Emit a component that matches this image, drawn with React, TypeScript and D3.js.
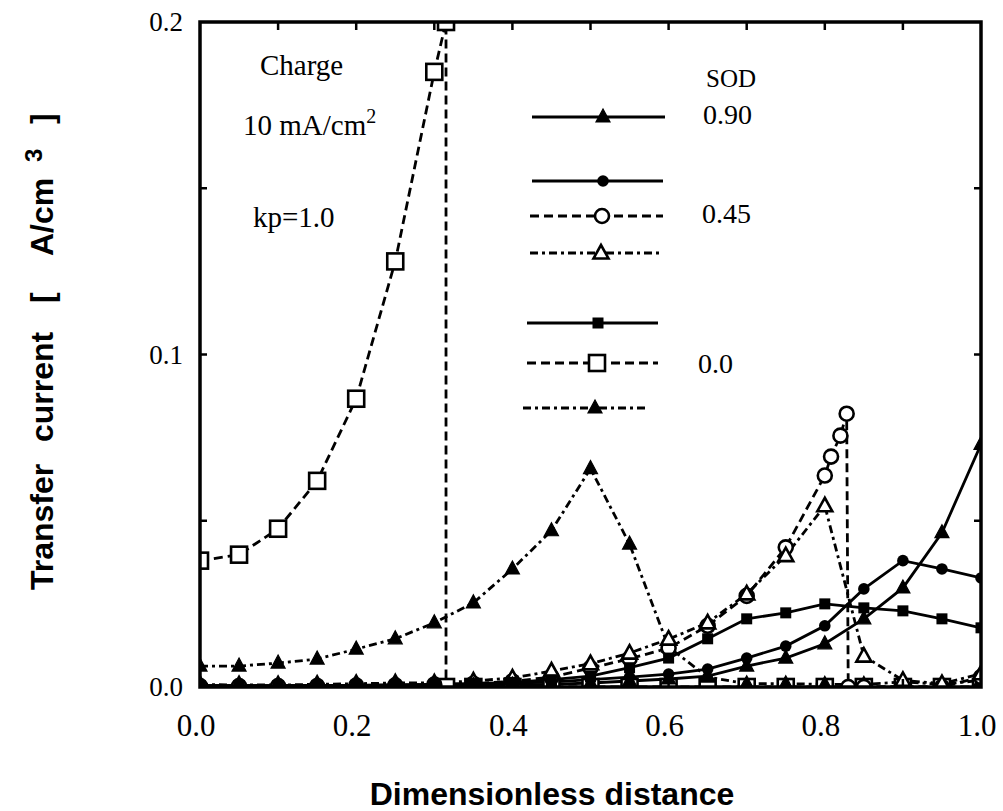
import React from 'react';
import * as d3 from 'd3';

// ---------- data ----------
const xGrid = [0, 0.05, 0.1, 0.15, 0.2, 0.25, 0.3, 0.35, 0.4, 0.45, 0.5, 0.55, 0.6, 0.65, 0.7, 0.75, 0.8, 0.85, 0.9, 0.95, 1.0];

// SOD 0.90, solid line, filled triangles
const sod090Solid = [0.0003, 0.0003, 0.0003, 0.0003, 0.0003, 0.0004, 0.0004, 0.0005, 0.0006, 0.0008, 0.0012, 0.0018, 0.0024, 0.0033, 0.0063, 0.0087, 0.013, 0.0205, 0.0298, 0.0464, 0.073];

// SOD 0.45, solid line, filled circles
const sod045Solid = [0.0004, 0.0004, 0.0004, 0.0005, 0.0005, 0.0006, 0.0007, 0.0009, 0.0012, 0.0015, 0.0022, 0.003, 0.0039, 0.0054, 0.0087, 0.0123, 0.0184, 0.0295, 0.038, 0.0355, 0.0328];

// SOD 0.45, dashed line, open circles
const sod045DashedX = [0, 0.05, 0.1, 0.15, 0.2, 0.25, 0.3, 0.35, 0.4, 0.45, 0.5, 0.55, 0.6, 0.65, 0.7, 0.75, 0.8, 0.808, 0.82, 0.828, 0.83, 0.85, 0.9, 0.95, 1.0];
const sod045Dashed = [0.0003, 0.0003, 0.0003, 0.0003, 0.0004, 0.0005, 0.0007, 0.001, 0.0017, 0.003, 0.0057, 0.0085, 0.0117, 0.0184, 0.0274, 0.042, 0.0636, 0.0693, 0.0756, 0.0822, 0, 0, 0, 0, 0.003];

// SOD 0.45, dash-dot line, open triangles
const sod045DashDot = [0.0008, 0.0006, 0.0006, 0.0008, 0.001, 0.0012, 0.0012, 0.0018, 0.0027, 0.0048, 0.007, 0.0102, 0.0144, 0.0193, 0.028, 0.0395, 0.0545, 0.0093, 0.002, 0.001, 0.004];

// SOD 0.0, solid line, filled squares
const sod0Solid = [0.0004, 0.0004, 0.0004, 0.0005, 0.0005, 0.0006, 0.0008, 0.001, 0.0014, 0.0022, 0.0033, 0.0058, 0.0087, 0.0145, 0.0205, 0.0223, 0.025, 0.0238, 0.0229, 0.0205, 0.0178];

// SOD 0.0, dashed line, open squares
const sod0DashedX = [0, 0.05, 0.1, 0.15, 0.2, 0.25, 0.3, 0.315, 0.315, 0.35, 0.4, 0.45, 0.5, 0.55, 0.6, 0.65, 0.7, 0.75, 0.8, 0.85, 0.9, 0.95, 1.0];
const sod0Dashed = [0.038, 0.0398, 0.0476, 0.062, 0.0867, 0.128, 0.185, 0.2, 0, 0, 0, 0, 0, 0, 0, 0, 0, 0, 0, 0, 0, 0, 0];

// SOD 0.0, dash-dot line, filled triangles
const sod0DashDot = [0.0063, 0.0063, 0.0072, 0.0084, 0.0114, 0.0145, 0.0193, 0.0253, 0.0355, 0.047, 0.0657, 0.043, 0.012, 0.003, 0.001, 0.001, 0.0008, 0.0008, 0.0015, 0.0008, 0.002];

const xTicks = [0, 0.2, 0.4, 0.6, 0.8, 1.0];
const xTickLabels = ['0.0', '0.2', '0.4', '0.6', '0.8', '1.0'];
const yTicks = [0, 0.1, 0.2];
const yTickLabels = ['0.0', '0.1', '0.2'];
const xMinorTicks = [0.1, 0.2, 0.3, 0.4, 0.5, 0.6, 0.7, 0.8, 0.9];
const yMinorTicks = [0.05, 0.1, 0.15];

const legendTitle = 'SOD';
const legendLabels = ['0.90', '0.45', '0.0'];
const annotations = ['Charge', 'kp=1.0'];

type MarkerKind = 'triFill' | 'triOpen' | 'circFill' | 'circOpen' | 'sqFill' | 'sqOpen';
type DashKind = 'solid' | 'dash' | 'dashdot';

const series: { xs: number[]; ys: number[]; dash: DashKind; marker: MarkerKind }[] = [
  { xs: sod0DashedX, ys: sod0Dashed, dash: 'dash', marker: 'sqOpen' },
  { xs: xGrid, ys: sod0DashDot, dash: 'dashdot', marker: 'triFill' },
  { xs: sod045DashedX, ys: sod045Dashed, dash: 'dash', marker: 'circOpen' },
  { xs: xGrid, ys: sod045DashDot, dash: 'dashdot', marker: 'triOpen' },
  { xs: xGrid, ys: sod0Solid, dash: 'solid', marker: 'sqFill' },
  { xs: xGrid, ys: sod045Solid, dash: 'solid', marker: 'circFill' },
  { xs: xGrid, ys: sod090Solid, dash: 'solid', marker: 'triFill' },
];

const legendRows: { dash: DashKind; marker: MarkerKind }[] = [
  { dash: 'solid', marker: 'triFill' },
  { dash: 'solid', marker: 'circFill' },
  { dash: 'dash', marker: 'circOpen' },
  { dash: 'dashdot', marker: 'triOpen' },
  { dash: 'solid', marker: 'sqFill' },
  { dash: 'dash', marker: 'sqOpen' },
  { dash: 'dashdot', marker: 'triFill' },
];

// ---------- layout ----------
const W = 1003;
const H = 811;
const left = 200, right = 981, top = 22, bottom = 687;
const x = d3.scaleLinear().domain([0, 1]).range([left, right]);
const y = d3.scaleLinear().domain([0, 0.2]).range([bottom, top]);

const dashArray: Record<DashKind, string | undefined> = {
  solid: undefined,
  dash: '9,5',
  dashdot: '8,4,3,4',
};

const serif = '"Liberation Serif", "Times New Roman", Times, serif';
const sans = '"Liberation Sans", Arial, Helvetica, sans-serif';

function Marker({ kind, cx, cy }: { kind: MarkerKind; cx: number; cy: number }) {
  switch (kind) {
    case 'triFill':
      return <path d={`M${cx},${cy - 8}L${cx - 7},${cy + 5}L${cx + 7},${cy + 5}Z`} fill="black" stroke="black" strokeWidth={1.2} />;
    case 'triOpen':
      return <path d={`M${cx},${cy - 8}L${cx - 7.5},${cy + 5.5}L${cx + 7.5},${cy + 5.5}Z`} fill="white" stroke="black" strokeWidth={2.6} strokeLinejoin="miter" />;
    case 'circFill':
      return <circle cx={cx} cy={cy} r={5.8} fill="black" />;
    case 'circOpen':
      return <circle cx={cx} cy={cy} r={7} fill="white" stroke="black" strokeWidth={2.6} />;
    case 'sqFill':
      return <rect x={cx - 5.5} y={cy - 5.5} width={11} height={11} fill="black" />;
    case 'sqOpen':
      return <rect x={cx - 8} y={cy - 8} width={16} height={16} fill="white" stroke="black" strokeWidth={2.6} />;
  }
}

export default function App() {
  const line = d3.line<[number, number]>().x(d => x(d[0])).y(d => y(d[1]));
  const legendYs = [117, 181, 216, 253, 323, 363, 408];
  const legendX0 = [532, 532, 530, 530, 527, 527, 523];
  const legendX1 = [665, 663, 663, 662, 658, 658, 648];
  const legendMx = [603, 603, 602, 601, 598, 597, 595];

  return (
    <svg width={W} height={H} style={{ position: 'absolute', left: 0, top: 0, background: 'white' }}>
      <rect x={0} y={0} width={W} height={H} fill="white" />
      <defs>
        <clipPath id="plotClip">
          <rect x={left} y={top} width={right - left} height={bottom - top} />
        </clipPath>
      </defs>

      {/* data */}
      <g clipPath="url(#plotClip)">
        {series.map((s, i) => (
          <path
            key={'l' + i}
            d={line(s.xs.map((v, j) => [v, s.ys[j]] as [number, number])) || ''}
            fill="none"
            stroke="black"
            strokeWidth={2.8}
            strokeDasharray={dashArray[s.dash]}
          />
        ))}
        {series.map((s, i) => (
          <g key={'m' + i}>
            {s.xs.map((v, j) => (
              <Marker key={j} kind={s.marker} cx={x(v)} cy={y(s.ys[j])} />
            ))}
          </g>
        ))}
      </g>

      {/* frame */}
      <rect x={left} y={top} width={right - left} height={bottom - top} fill="none" stroke="black" strokeWidth={3.5} />
      {xMinorTicks.map(t => (
        <g key={'xt' + t}>
          <line x1={x(t)} x2={x(t)} y1={top} y2={top + 8} stroke="black" strokeWidth={2.5} />
          <line x1={x(t)} x2={x(t)} y1={bottom} y2={bottom - 8} stroke="black" strokeWidth={2.5} />
        </g>
      ))}
      {yMinorTicks.map(t => (
        <g key={'yt' + t}>
          <line x1={left} x2={left + 7} y1={y(t)} y2={y(t)} stroke="black" strokeWidth={2.5} />
          <line x1={right} x2={right - 7} y1={y(t)} y2={y(t)} stroke="black" strokeWidth={2.5} />
        </g>
      ))}

      {/* tick labels */}
      {xTicks.map((t, i) => (
        <text key={'xl' + t} x={x(t) - 4} y={736} textAnchor="middle" fontFamily={serif} fontSize={31}>
          {xTickLabels[i]}
        </text>
      ))}
      {yTicks.map((t, i) => (
        <text key={'yl' + t} x={183} y={y(t) + 9} textAnchor="end" fontFamily={serif} fontSize={27}>
          {yTickLabels[i]}
        </text>
      ))}

      {/* axis titles */}
      <text x={552} y={805} textAnchor="middle" fontFamily={sans} fontWeight="bold" fontSize={32}>
        Dimensionless distance
      </text>
      <g transform="translate(53,0) rotate(-90)">
        <text x={-590} y={0} fontFamily={sans} fontWeight="bold" fontSize={32}>Transfer</text>
        <text x={-442} y={0} fontFamily={sans} fontWeight="bold" fontSize={32}>current</text>
        <text x={-303} y={0} fontFamily={sans} fontWeight="bold" fontSize={32}>[</text>
        <text x={-256} y={0} fontFamily={sans} fontWeight="bold" fontSize={32}>A/cm</text>
        <text x={-162} y={-11} fontFamily={sans} fontWeight="bold" fontSize={24}>3</text>
        <text x={-124} y={0} fontFamily={sans} fontWeight="bold" fontSize={32}>]</text>
      </g>

      {/* annotations */}
      <text x={260} y={75} fontFamily={serif} fontSize={29}>{annotations[0]}</text>
      <text x={243} y={135} fontFamily={serif} fontSize={29}>
        10 mA/cm<tspan dy={-12} fontSize={20}>2</tspan>
      </text>
      <text x={253} y={227} fontFamily={serif} fontSize={29}>{annotations[1]}</text>

      {/* legend */}
      <text x={706} y={87} fontFamily={serif} fontSize={25}>{legendTitle}</text>
      {legendRows.map((r, i) => (
        <g key={'lg' + i}>
          <line x1={legendX0[i]} x2={legendX1[i]} y1={legendYs[i]} y2={legendYs[i]} stroke="black" strokeWidth={2.8} strokeDasharray={dashArray[r.dash]} />
          <Marker kind={r.marker} cx={legendMx[i]} cy={legendYs[i]} />
        </g>
      ))}
      <text x={703} y={124} fontFamily={serif} fontSize={28}>{legendLabels[0]}</text>
      <text x={702} y={223} fontFamily={serif} fontSize={28}>{legendLabels[1]}</text>
      <text x={698} y={373} fontFamily={serif} fontSize={28}>{legendLabels[2]}</text>
    </svg>
  );
}
